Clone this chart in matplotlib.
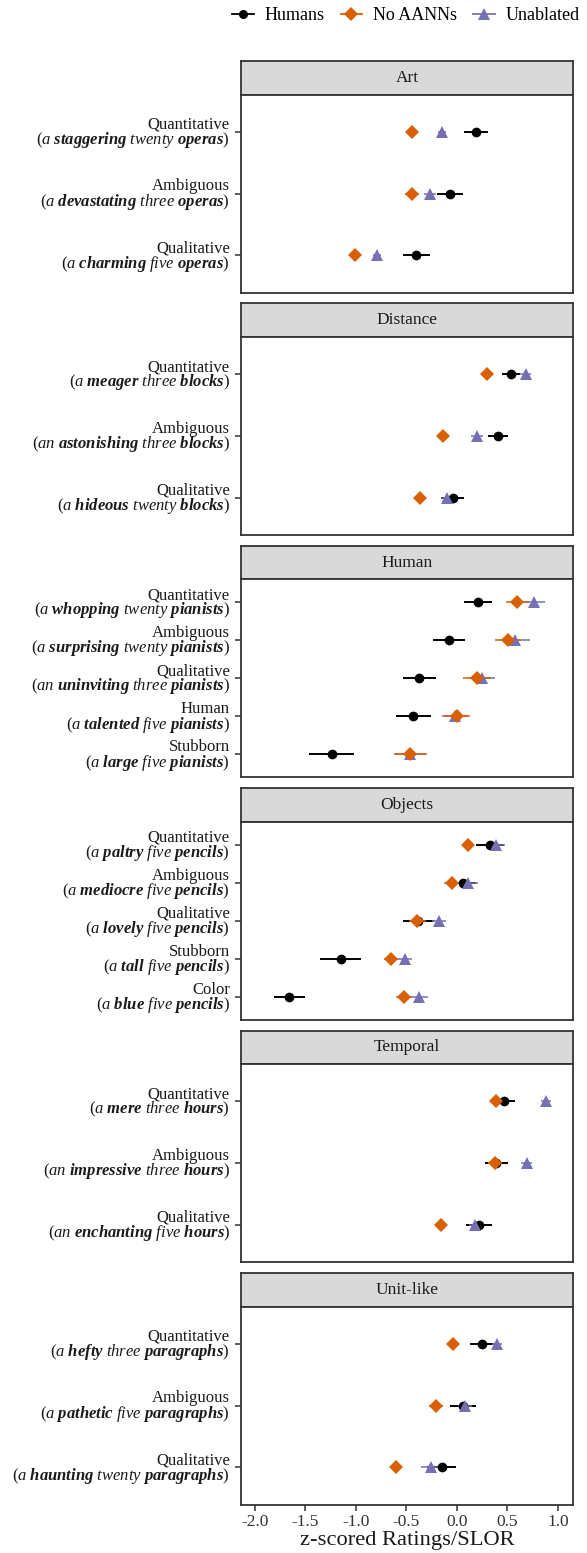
import matplotlib
matplotlib.use("Agg")
import matplotlib.pyplot as plt
import matplotlib.transforms as mtransforms
from matplotlib.lines import Line2D

plt.rcParams['font.family'] = ['Liberation Serif', 'DejaVu Serif']
plt.rcParams['mathtext.fontset'] = 'custom'
plt.rcParams['mathtext.rm'] = 'Liberation Serif'
plt.rcParams['mathtext.it'] = 'Liberation Serif:italic'
plt.rcParams['mathtext.bf'] = 'Liberation Serif:bold'
plt.rcParams['mathtext.bfit'] = 'Liberation Serif:italic:bold'
plt.rcParams['axes.unicode_minus'] = False

# ---------------- data ----------------
facets = ["Art", "Distance", "Human", "Objects", "Temporal", "Unit-like"]

categories = {
    "Art": ["Quantitative", "Ambiguous", "Qualitative"],
    "Distance": ["Quantitative", "Ambiguous", "Qualitative"],
    "Human": ["Quantitative", "Ambiguous", "Qualitative", "Human", "Stubborn"],
    "Objects": ["Quantitative", "Ambiguous", "Qualitative", "Stubborn", "Color"],
    "Temporal": ["Quantitative", "Ambiguous", "Qualitative"],
    "Unit-like": ["Quantitative", "Ambiguous", "Qualitative"],
}
articles = {
    "Art": ["a", "a", "a"],
    "Distance": ["a", "an", "a"],
    "Human": ["a", "a", "an", "a", "a"],
    "Objects": ["a", "a", "a", "a", "a"],
    "Temporal": ["a", "an", "an"],
    "Unit-like": ["a", "a", "a"],
}
adjectives = {
    "Art": ["staggering", "devastating", "charming"],
    "Distance": ["meager", "astonishing", "hideous"],
    "Human": ["whopping", "surprising", "uninviting", "talented", "large"],
    "Objects": ["paltry", "mediocre", "lovely", "tall", "blue"],
    "Temporal": ["mere", "impressive", "enchanting"],
    "Unit-like": ["hefty", "pathetic", "haunting"],
}
numerals = {
    "Art": ["twenty", "three", "five"],
    "Distance": ["three", "three", "twenty"],
    "Human": ["twenty", "twenty", "three", "five", "five"],
    "Objects": ["five", "five", "five", "five", "five"],
    "Temporal": ["three", "three", "five"],
    "Unit-like": ["three", "five", "twenty"],
}
nouns = {
    "Art": "operas", "Distance": "blocks", "Human": "pianists",
    "Objects": "pencils", "Temporal": "hours", "Unit-like": "paragraphs",
}

humans_mean = {
    "Art": [0.19, -0.07, -0.40],
    "Distance": [0.54, 0.41, -0.04],
    "Human": [0.21, -0.08, -0.37, -0.43, -1.24],
    "Objects": [0.33, 0.06, -0.38, -1.15, -1.66],
    "Temporal": [0.47, 0.39, 0.22],
    "Unit-like": [0.25, 0.06, -0.15],
}
humans_err = {
    "Art": [0.115, 0.13, 0.13],
    "Distance": [0.09, 0.10, 0.115],
    "Human": [0.14, 0.16, 0.16, 0.17, 0.22],
    "Objects": [0.14, 0.13, 0.155, 0.20, 0.155],
    "Temporal": [0.11, 0.115, 0.125],
    "Unit-like": [0.115, 0.13, 0.145],
}
noaann_mean = {
    "Art": [-0.44, -0.44, -1.01],
    "Distance": [0.30, -0.14, -0.36],
    "Human": [0.60, 0.51, 0.20, 0.00, -0.46],
    "Objects": [0.11, -0.05, -0.39, -0.65, -0.52],
    "Temporal": [0.39, 0.38, -0.16],
    "Unit-like": [-0.04, -0.21, -0.60],
}
noaann_err = {
    "Art": [0.04, 0.07, 0.04],
    "Distance": [0.04, 0.06, 0.04],
    "Human": [0.11, 0.13, 0.14, 0.13, 0.16],
    "Objects": [0.06, 0.08, 0.08, 0.07, 0.08],
    "Temporal": [0.05, 0.07, 0.04],
    "Unit-like": [0.06, 0.07, 0.06],
}
unablated_mean = {
    "Art": [-0.15, -0.27, -0.79],
    "Distance": [0.68, 0.20, -0.10],
    "Human": [0.76, 0.58, 0.25, -0.02, -0.46],
    "Objects": [0.39, 0.11, -0.18, -0.51, -0.37],
    "Temporal": [0.88, 0.69, 0.18],
    "Unit-like": [0.40, 0.08, -0.26],
}
unablated_err = {
    "Art": [0.04, 0.06, 0.04],
    "Distance": [0.05, 0.06, 0.06],
    "Human": [0.11, 0.14, 0.13, 0.13, 0.15],
    "Objects": [0.09, 0.10, 0.07, 0.07, 0.08],
    "Temporal": [0.05, 0.05, 0.06],
    "Unit-like": [0.05, 0.07, 0.09],
}

series = ["Humans", "No AANNs", "Unablated"]
colors = {"Humans": "black", "No AANNs": "#D95F02", "Unablated": "#7570B3"}
markers = {"Humans": "o", "No AANNs": "D", "Unablated": "^"}
msizes = {"Humans": 7, "No AANNs": 7.5, "Unablated": 9}
xticks = [-2.0, -1.5, -1.0, -0.5, 0.0, 0.5, 1.0]
xlim = (-2.137, 1.15)

# ---------------- layout (pixels) ----------------
W, H = 587, 1553
fig = plt.figure(figsize=(W / 100, H / 100), dpi=100)
left_px, right_px = 241, 573
strip_h, panel_h, period, first_top = 33.5, 198.0, 242.4, 61.0
dark = "#333333"

def frac_box(x0, y0, w, h):
    return [x0 / W, 1 - (y0 + h) / H, w / W, h / H]

def label_for(f, i):
    return (categories[f][i] + "\n" +
            r"$(\mathit{%s}\ \mathbfit{%s}\ \mathit{%s}\ \mathbfit{%s})$" %
            (articles[f][i], adjectives[f][i], numerals[f][i], nouns[f]))

shift_up = mtransforms.ScaledTranslation(0, 3.5 / 100, fig.dpi_scale_trans)

for k, f in enumerate(facets):
    top = first_top + k * period
    sax = fig.add_axes(frac_box(left_px, top, right_px - left_px, strip_h))
    sax.set_facecolor("#D9D9D9")
    sax.set_xticks([]); sax.set_yticks([])
    for s in sax.spines.values():
        s.set_color(dark); s.set_linewidth(1.3)
    sax.text(0.5, 0.5, f, ha="center", va="center", fontsize=12.5, color="#1A1A1A",
             transform=sax.transAxes)

    ax = fig.add_axes(frac_box(left_px, top + strip_h, right_px - left_px, panel_h))
    n = len(categories[f])
    ypos = list(range(1, n + 1))
    means = {"Humans": humans_mean[f], "No AANNs": noaann_mean[f], "Unablated": unablated_mean[f]}
    errs = {"Humans": humans_err[f], "No AANNs": noaann_err[f], "Unablated": unablated_err[f]}
    for s in ["Humans", "Unablated", "No AANNs"]:
        ax.errorbar(means[s], ypos, xerr=errs[s], fmt=markers[s], color=colors[s],
                    ms=msizes[s], elinewidth=1.4 if s == "Humans" else 1.1,
                    capsize=0, mew=0, zorder=3)
    ax.set_xlim(*xlim)
    ax.set_ylim(n + 0.6, 0.4)
    ax.set_yticks(ypos)
    ax.set_yticklabels([label_for(f, i) for i in range(n)], fontsize=12,
                       color="#1A1A1A", ha="right", multialignment="right")
    for lab in ax.get_yticklabels():
        lab.set_linespacing(0.8)
        lab.set_transform(lab.get_transform() + shift_up)
    ax.tick_params(axis="y", length=4, width=1.1, color=dark, pad=4)
    ax.set_xticks(xticks)
    if k == len(facets) - 1:
        ax.set_xticklabels(["%.1f" % v for v in xticks], fontsize=12.5, color="#333333")
        ax.tick_params(axis="x", length=4, width=1.1, color=dark, pad=3)
    else:
        ax.tick_params(axis="x", length=0, labelbottom=False)
    for s in ax.spines.values():
        s.set_color(dark); s.set_linewidth(1.3)

fig.text((left_px + right_px) / 2 / W, 1 - 1541 / H, "z-scored Ratings/SLOR",
         ha="center", va="center", fontsize=16.2, color="#1A1A1A")

handles = [Line2D([0], [0], color=colors[s], marker=markers[s], ms=msizes[s] - 0.5,
                  lw=1.3, mew=0) for s in series]
fig.legend(handles, series, loc="upper right", bbox_to_anchor=(580 / W, 1 - 7 / H),
           ncol=3, frameon=False, fontsize=13, handlelength=1.2, columnspacing=0.9,
           handletextpad=0.6, borderpad=0, borderaxespad=0)

fig.savefig("out.png", dpi=100)
